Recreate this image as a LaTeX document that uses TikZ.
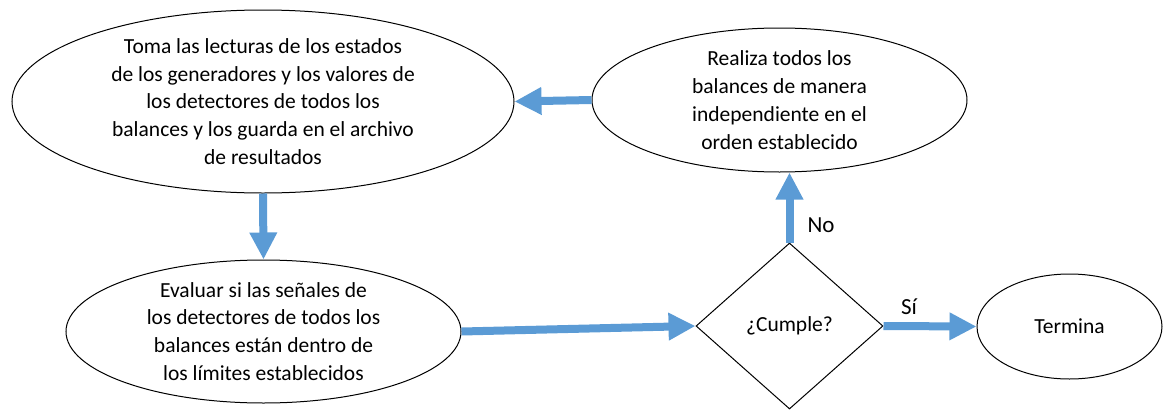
\documentclass[tikz,border=0pt]{standalone}
\usepackage{fontspec}
\setmainfont{Carlito}
\usepackage{tikz}
\usetikzlibrary{arrows.meta,shapes.geometric}

\definecolor{flowblue}{RGB}{91,155,213}

\begin{document}
\begin{tikzpicture}[x=1pt, y=-1pt,
    step_ellipse/.style={ellipse, draw=black, line width=1pt, inner sep=0pt,
      align=center, font=\fontsize{21.5}{27.8}\selectfont},
    decision/.style={diamond, draw=black, line width=1pt, inner sep=0pt,
      minimum width=187pt, minimum height=166pt,
      font=\fontsize{21.5}{27.8}\selectfont},
    branch_label/.style={font=\fontsize{23}{27}\selectfont},
    flow/.style={line width=8pt, draw=flowblue,
      -{Triangle[length=27pt, width=26pt]}}
  ]
  \useasboundingbox (0,0) rectangle (1163,410);

  % --- Steps ---
  \node[step_ellipse, minimum width=502pt, minimum height=183pt]
    (lecturas) at (263,101.5)
    {Toma las lecturas de los estados\\de los generadores y los valores de\\los detectores de todos los\\balances y los guarda en el archivo\\de resultados};
  \node[step_ellipse, minimum width=375pt, minimum height=144pt]
    (balances) at (779.5,100)
    {Realiza todos los\\balances de manera\\independiente en el\\orden establecido};
  \node[step_ellipse, minimum width=395pt, minimum height=143pt]
    (evaluar) at (263.5,331.5)
    {Evaluar si las señales de\\los detectores de todos los\\balances están dentro de\\los límites establecidos};
  \node[step_ellipse, minimum width=185pt, minimum height=105pt]
    (termina) at (1069.5,326.5) {Termina};

  % --- Decision ---
  \node[decision] (cumple) at (789.5,326) {¿Cumple?};

  % --- Connectors ---
  \draw[flow] (balances.west) -- (lecturas.east);
  \draw[flow] (lecturas.south) -- (evaluar.north);
  \draw[flow] (evaluar.east) -- (cumple.west);
  \draw[flow] (cumple.north) -- (cumple.north |- balances.south);
  \draw[flow] (cumple.east) -- (termina.west);

  % --- Branch labels ---
  \node[branch_label] (no) at (821,225) {No};
  \node[branch_label] (si) at (909,307) {Sí};
\end{tikzpicture}
\end{document}
